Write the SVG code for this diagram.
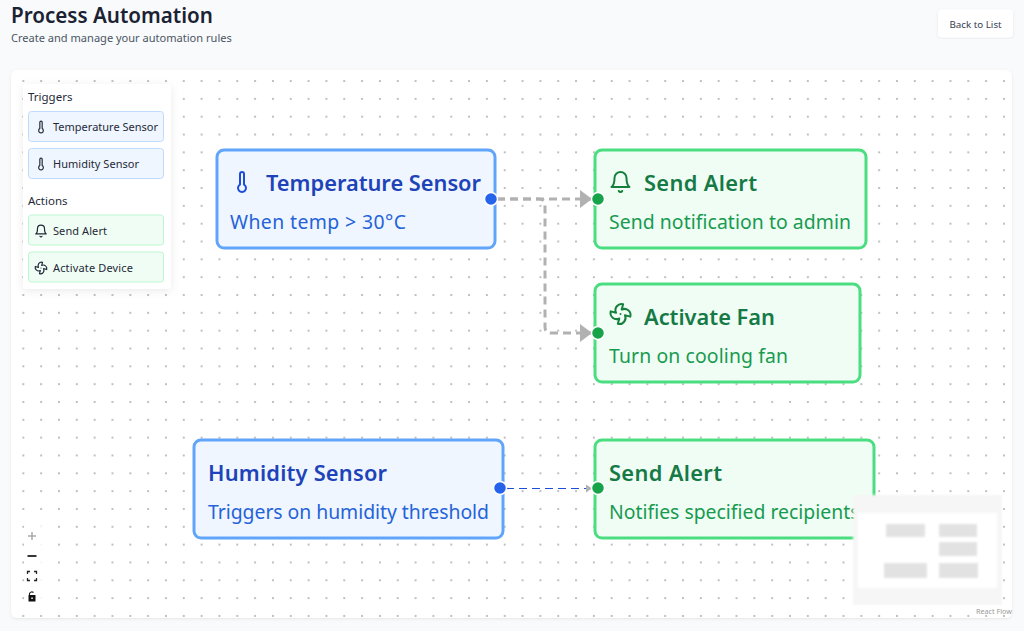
<svg xmlns="http://www.w3.org/2000/svg" width="1024" height="631" viewBox="0 0 1024 631">
<style>
text{font-family:"Noto Sans","Open Sans","Liberation Sans",sans-serif}
.blue{fill:#eff6ff;stroke:#60a5fa;stroke-width:3}
.green{fill:#f0fdf4;stroke:#4ade80;stroke-width:3}
.bt{font-size:21.8px;font-weight:600;fill:#1e43b8}
.bs{font-size:19.4px;fill:#2563d9}
.gt{font-size:21.8px;font-weight:600;fill:#157a46}
.gs{font-size:19.4px;fill:#179b50}
.ib{fill:none;stroke:#1d4ed8;stroke-width:2;stroke-linecap:round;stroke-linejoin:round}
.ig{fill:none;stroke:#15803d;stroke-width:2;stroke-linecap:round;stroke-linejoin:round}
.ik{fill:none;stroke:#1f2937;stroke-width:2;stroke-linecap:round;stroke-linejoin:round}
.sb{fill:#eff6ff;stroke:#bfdbfe;stroke-width:1}
.sg{fill:#f0fdf4;stroke:#bbf7d0;stroke-width:1}
.st{font-size:11px;fill:#1f2937}
.sh{font-size:11.5px;fill:#1f2937}
.hb{fill:#2563eb;stroke:#fff;stroke-width:1.5}
.hg{fill:#16a34a;stroke:#fff;stroke-width:1.5}
.mm{fill:#e2e2e2}
</style>
<defs>
<pattern id="dots" x="5.5" y="63.2" width="17.83" height="17.83" patternUnits="userSpaceOnUse"><circle cx="17.8" cy="17.8" r=".9" fill="#a4a4a4"/><circle cx="0" cy="17.8" r=".9" fill="#a4a4a4"/><circle cx="17.8" cy="0" r=".9" fill="#a4a4a4"/><circle cx="0" cy="0" r=".9" fill="#a4a4a4"/></pattern>
<symbol id="thermo" viewBox="0 0 24 24" overflow="visible"><path d="M14 4v10.54a4 4 0 1 1-4 0V4a2 2 0 0 1 4 0Z"/></symbol>
<symbol id="bell" viewBox="0 0 24 24" overflow="visible"><path d="M6 8a6 6 0 0 1 12 0c0 7 3 9 3 9H3s3-2 3-9"/><path d="M10.3 21a1.94 1.94 0 0 0 3.4 0"/></symbol>
<symbol id="fan" viewBox="0 0 24 24" overflow="visible"><path d="M10.827 16.379a6.082 6.082 0 0 1-8.618-7.002l5.412 1.45a6.082 6.082 0 0 1 7.002-8.618l-1.45 5.412a6.082 6.082 0 0 1 8.618 7.002l-5.412-1.45a6.082 6.082 0 0 1-7.002 8.618l1.45-5.412Z"/><path d="M12 12v.01"/></symbol>
<filter id="sh" x="-20%" y="-20%" width="140%" height="140%"><feDropShadow dx="0" dy="2" stdDeviation="4" flood-color="#000" flood-opacity=".08"/></filter>
<filter id="sh2" x="-5%" y="-5%" width="110%" height="110%"><feDropShadow dx="0" dy="1" stdDeviation="1.5" flood-color="#000" flood-opacity=".08"/></filter>
<filter id="blur" x="-10%" y="-10%" width="120%" height="120%"><feGaussianBlur stdDeviation="1.2"/></filter>
<marker id="ag" markerUnits="userSpaceOnUse" markerWidth="13" markerHeight="19" refX="12" refY="9.500" orient="auto"><path d="M0 .5L12 9.500L0 18.500Z" fill="#b1b1b1"/></marker>
<marker id="as" markerUnits="userSpaceOnUse" markerWidth="6" markerHeight="8" refX="6" refY="4" orient="auto"><path d="M0 0L6 4L0 8Z" fill="#b1b1b1"/></marker>
</defs>
<rect width="1024" height="631" fill="#f8fafc"/>
<g id="header">
<text x="11" y="23" fill="#1a2233" font-weight="600" style="font-size:20.600px">Process Automation</text>
<text x="11" y="42" style="font-size:11.050px" fill="#4b5563">Create and manage your automation rules</text>
</g>
<g id="back-button">
<rect x="938" y="9.500" width="75" height="28" rx="4" fill="#fff" filter="url(#sh2)"/>
<text x="975.500" y="27.500" text-anchor="middle" style="font-size:9.800px" fill="#374151">Back to List</text>
</g>
<g id="canvas">
<rect x="11" y="70" width="1001" height="548" rx="6" fill="#fff" filter="url(#sh2)"/>
<rect x="11" y="70" width="1001" height="548" rx="6" fill="url(#dots)"/>
</g>
<g id="connectors" fill="none">
<path d="M497 199H592" stroke="#b1b1b1" stroke-width="3" stroke-dasharray="8 5" marker-end="url(#ag)"/>
<path d="M497 199H539Q545 199 545 205V327Q545 333 551 333H592" stroke="#b1b1b1" stroke-width="3" stroke-dasharray="8 5" marker-end="url(#ag)"/>
<path d="M506 488.500H592" stroke="#1d4ed8" stroke-width="1.200" stroke-dasharray="8 5" marker-end="url(#as)"/>
</g>
<g id="node-temperature">
<rect class="blue" x="217" y="150" width="278" height="98" rx="7"/>
<use href="#thermo" class="ib" x="230" y="170" width="24" height="24"/>
<text class="bt" x="266" y="191" textLength="215">Temperature Sensor</text>
<text class="bs" x="230" y="229" textLength="176">When temp &gt; 30°C</text>
<circle class="hb" cx="491" cy="199" r="6.500"/>
</g>
<g id="node-send-alert">
<rect class="green" x="595" y="150" width="271" height="98" rx="7"/>
<use href="#bell" class="ig" x="608.500" y="170" width="24" height="24"/>
<text class="gt" x="644" y="191" textLength="113">Send Alert</text>
<text class="gs" x="609" y="229" textLength="242">Send notification to admin</text>
<circle class="hg" cx="598" cy="199" r="6.500"/>
</g>
<g id="node-activate-fan">
<rect class="green" x="595" y="284" width="265" height="98" rx="7"/>
<use href="#fan" class="ig" x="608.500" y="302" width="24" height="24"/>
<text class="gt" x="644" y="325" textLength="131">Activate Fan</text>
<text class="gs" x="609" y="363" textLength="179">Turn on cooling fan</text>
<circle class="hg" cx="598" cy="333" r="6.500"/>
</g>
<g id="node-humidity">
<rect class="blue" x="194" y="440" width="309" height="98" rx="7"/>
<text class="bt" x="208" y="481" textLength="179">Humidity Sensor</text>
<text class="bs" x="208" y="519" textLength="281">Triggers on humidity threshold</text>
<circle class="hb" cx="500" cy="488" r="6.500"/>
</g>
<g id="node-send-alert-2">
<rect class="green" x="595" y="440" width="279" height="98" rx="7"/>
<text class="gt" x="609" y="481" textLength="113">Send Alert</text>
<text class="gs" x="609" y="519">Notifies specified recipients</text>
<circle class="hg" cx="598" cy="488" r="6.500"/>
</g>
<g id="palette">
<rect x="23" y="84" width="148" height="205" rx="4" fill="#fff" filter="url(#sh)"/>
<text class="sh" x="28" y="101">Triggers</text>
<rect class="sb" x="28.500" y="111.500" width="135" height="30" rx="3"/>
<use href="#thermo" class="ik" x="34" y="120" width="14" height="14"/>
<text class="st" x="53" y="131" textLength="105">Temperature Sensor</text>
<rect class="sb" x="28.500" y="148.500" width="135" height="30" rx="3"/>
<use href="#thermo" class="ik" x="34" y="157" width="14" height="14"/>
<text class="st" x="53" y="168" textLength="86">Humidity Sensor</text>
<text class="sh" x="28" y="205">Actions</text>
<rect class="sg" x="28.500" y="215" width="135" height="30" rx="3"/>
<use href="#bell" class="ik" x="34" y="224" width="14" height="14"/>
<text class="st" x="53" y="235" textLength="54">Send Alert</text>
<rect class="sg" x="28.500" y="252" width="135" height="30" rx="3"/>
<use href="#fan" class="ik" x="34" y="261" width="14" height="14"/>
<text class="st" x="53" y="272" textLength="80">Activate Device</text>
</g>
<g id="controls">
<rect x="24" y="526" width="19" height="80" fill="#fff" opacity=".85"/>
<path d="M32 532V540M28 536H36" stroke="#aaa" stroke-width="1.500" fill="none"/>
<path d="M27.500 556H36.500" stroke="#222" stroke-width="1.800" fill="none"/>
<path d="M27.500 574V571.500H30M34 571.500H36.500V574M36.500 578V580.500H34M30 580.500H27.500V578" stroke="#222" stroke-width="1.300" fill="none"/>
<path d="M29.500 595V593.500A2.500 2.500 0 0 1 33.500 592.500" stroke="#222" stroke-width="1.100" fill="none"/>
<rect x="28.500" y="595" width="7" height="6.500" rx=".5" fill="#111"/>
<rect x="31.300" y="597.500" width="1.500" height="1.500" fill="#fff"/>
</g>
<g id="minimap">
<g filter="url(#blur)">
<rect x="853" y="495" width="149" height="110" fill="#f6f6f6"/>
<rect x="858" y="513" width="139" height="75" fill="#fff"/>
<rect class="mm" x="886" y="524" width="39" height="13"/>
<rect class="mm" x="939" y="524" width="38" height="13"/>
<rect class="mm" x="939" y="542" width="38" height="14"/>
<rect class="mm" x="884" y="563" width="43" height="15"/>
<rect class="mm" x="939" y="563" width="39" height="15"/>
</g>
</g>
<text id="attribution" x="976" y="614" style="font-size:7.200px" fill="#999">React Flow</text>
</svg>
